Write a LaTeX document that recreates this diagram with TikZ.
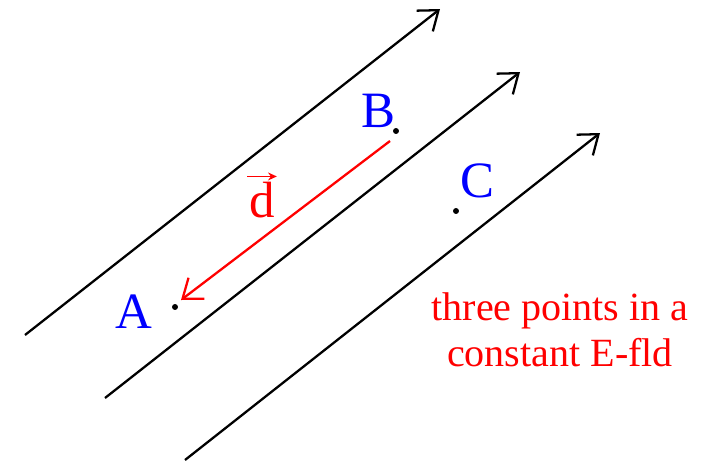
\documentclass[tikz,border=0pt]{standalone}
\usepackage{amsmath}
\usepackage{fontspec}
\setmainfont{Liberation Serif}
\usepackage{tikz}
\usetikzlibrary{positioning,arrows.meta}
\usepackage{xcolor}
\definecolor{ptblue}{RGB}{0,0,255}
\definecolor{fldred}{RGB}{255,0,0}

\begin{document}
\begin{tikzpicture}[x=0.02cm,y=-0.02cm,
  fieldline/.style={line width=1.3pt,-{Straight Barb[length=10pt,width=15pt,line width=1.3pt]}},
  ptlabel/.style={text=ptblue,font=\fontsize{29}{34}\selectfont,inner sep=0pt},
  ptdot/.style={circle,fill=black,inner sep=0pt,minimum size=3.4pt}]
\useasboundingbox (0,0) rectangle (702,463);
% field lines
\coordinate (f1s) at (25,335);  \coordinate (f1e) at (440,9);
\coordinate (f2s) at (105,398); \coordinate (f2e) at (520,72);
\coordinate (f3s) at (185,460); \coordinate (f3e) at (600,133);
\draw[fieldline] (f1s) -- (f1e);
\draw[fieldline] (f2s) -- (f2e);
\draw[fieldline] (f3s) -- (f3e);
% the three points
\node[ptdot] (dotA) at (175,307) {};
\node[ptdot] (dotB) at (396,131) {};
\node[ptdot] (dotC) at (456,211) {};
\node[ptlabel] (labA) at (134,312) {A};
\node[ptlabel] (labB) at (378,111) {B};
\node[ptlabel] (labC) at (477,181) {C};
% displacement
\coordinate (dfrom) at (390,141);
\coordinate (dto) at (181,300);
\draw[fldred,line width=1.3pt,-{Straight Barb[length=10pt,width=15pt,line width=1.3pt]}] (dfrom) -- (dto);
\node[text=fldred,font=\fontsize{29}{34}\selectfont,inner sep=0pt] (dlab) at (262,200) {d};
\draw[fldred,line width=0.9pt,-{Stealth[length=5pt,width=4.5pt]}]
  ([xshift=-1pt,yshift=3pt]dlab.north west) -- ([xshift=1pt,yshift=3pt]dlab.north east);
\node[text=fldred,font=\fontsize{22.8}{26}\selectfont,align=center] (note) at (560,330)
  {three points in a\\constant E-fld};
\end{tikzpicture}
\end{document}
